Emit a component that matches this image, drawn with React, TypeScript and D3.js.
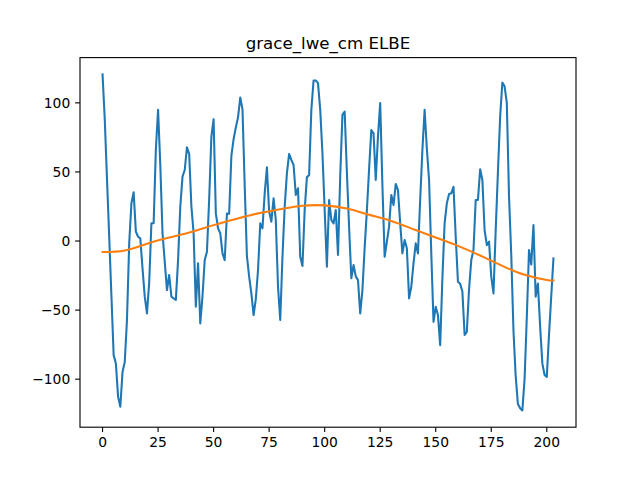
import React from "react";
import * as d3 from "d3";

const lweValues: number[] = [
  120.6, 88, 45, 3, -40, -82.6, -88.6, -112.8, -120, -94.7,
  -87.5, -57, -1.7, 27.3, 35.3, 6.8, 3.1, 1.9, -20, -40.3,
  -52.4, -30, 12.8, 12.8, 66, 95, 55, 5.6, -15, -35.5,
  -24.6, -40.3, -41.5, -42.6, -13.8, 24.9, 46.6, 51.4, 67.9, 63,
  25, 5.6, -47.6, -16.2, -59.7, -40, -13.8, -7.7, 30, 75.6,
  88.2, 20, 9.2, 5.6, -9, -13.8, 19.8, 19.8, 61.6, 73.7,
  82.2, 89.5, 103.9, 95.5, 40, -11, -25.8, -37.9, -53.6, -42,
  -21, 12.8, 9.2, 34.5, 53.4, 21.3, 14, 30.9, 15.2, -33.1,
  -57.2, -11.4, 24.9, 49, 63, 58.7, 55, 33.3, 38.2, -11.4,
  -18.1, 22.5, 46.1, 47.8, 94.9, 116.2, 116.2, 114.3, 94.9, 63.5,
  22.5, -18.6, 29.7, 15.2, 12.8, 22.5, -10.1, 47, 91.3, 93.7,
  50, 10, -27, -17.4, -25.6, -28.3, -52.4, -35.5, -5, 22,
  52, 80.4, 77.9, 44.2, 75.6, 99.8, 40, -11.4, -0.5, 10.4,
  33.3, 26, 41.3, 36.9, 12.8, -9, 0.7, -5.3, -41.5, -33.1,
  -16.2, -1.7, -9, 30, 66, 95, 67, 44.2, -9, -58.5,
  -47.6, -53.6, -75.4, -27, 12.8, 27.3, 34, 34.5, 39.3, 3,
  -29.5, -31, -36.6, -68, -65.7, -35, -13.8, -6.5, 29.7, 29.7,
  52, 44.2, 7.9, -3, -0.5, -25.8, -37.9, 8, 50, 90,
  114.7, 112, 100, 32, -10, -65, -98, -118, -121, -122.6,
  -100, -55, -6.5, -17, 11.6, -40.3, -30.7, -62, -88.6, -97,
  -98.3, -68, -40, -12.6,
];

const trendIndex: number[] = [0, 10, 20, 30, 40, 50, 60, 70, 80, 90, 100, 110, 120, 130, 140, 150, 160, 170, 180, 190, 200, 203];
const trendValues: number[] = [-8, -6.8, -2, 2.5, 6.5, 11.5, 16, 20, 23, 25.5, 25.8, 23.5, 19, 14.5, 8.5, 2.5, -3.5, -10.5, -18, -24.5, -28.2, -28.5];

const xTicks: number[] = [0, 25, 50, 75, 100, 125, 150, 175, 200];
const yTicks: number[] = [-100, -50, 0, 50, 100];
const title = "grace_lwe_cm ELBE";

export default function App() {
  const W = 640, H = 480;
  const left = 80, right = 576, top = 57.6, bottom = 427.2;
  const n = lweValues.length;
  const xMax = n - 1;
  const xPad = xMax * 0.05;
  const x = d3.scaleLinear().domain([-xPad, xMax + xPad]).range([left, right]);
  const allVals = lweValues.concat(trendValues);
  const [yMin, yMax] = d3.extent(allVals) as [number, number];
  const yPad = (yMax - yMin) * 0.05;
  const y = d3.scaleLinear().domain([yMin - yPad, yMax + yPad]).range([bottom, top]);

  const lineBlue = d3.line<number>().x((_, i) => x(i)).y((d) => y(d));
  const trendPts = trendIndex.map((t, i) => [t, trendValues[i]] as [number, number]);
  const lineOrange = d3.line<[number, number]>().x((d) => x(d[0])).y((d) => y(d[1])).curve(d3.curveNatural);

  const font = "'DejaVu Sans', sans-serif";
  const tickLen = 4.86;
  const pad = 4.86;

  return (
    <svg width={W} height={H} style={{ position: "absolute", left: 0, top: 0, background: "#fff" }} fontFamily={font}>
      <rect x={0} y={0} width={W} height={H} fill="#fff" />
      <defs>
        <clipPath id="axclip">
          <rect x={left} y={top} width={right - left} height={bottom - top} />
        </clipPath>
      </defs>
      <g clipPath="url(#axclip)">
        <path d={lineBlue(lweValues) || ""} fill="none" stroke="#1f77b4" strokeWidth={2.08} strokeLinejoin="round" strokeLinecap="square" />
        <path d={lineOrange(trendPts) || ""} fill="none" stroke="#ff7f0e" strokeWidth={2.08} strokeLinejoin="round" strokeLinecap="square" />
      </g>
      <rect x={left} y={top} width={right - left} height={bottom - top} fill="none" stroke="#000" strokeWidth={1.11} />
      {xTicks.map((t) => (
        <g key={"x" + t}>
          <line x1={x(t)} x2={x(t)} y1={bottom} y2={bottom + tickLen} stroke="#000" strokeWidth={1.11} />
          <text x={x(t)} y={bottom + tickLen + pad + 10.4} fontSize={13.89} textAnchor="middle" fill="#000">{t}</text>
        </g>
      ))}
      {yTicks.map((t) => (
        <g key={"y" + t}>
          <line x1={left - tickLen} x2={left} y1={y(t)} y2={y(t)} stroke="#000" strokeWidth={1.11} />
          <text x={left - tickLen - pad} y={y(t)} dy="0.36em" fontSize={13.89} textAnchor="end" fill="#000">{t < 0 ? "\u2212" + Math.abs(t) : t}</text>
        </g>
      ))}
      <text x={(left + right) / 2} y={top - 8.33} fontSize={16.67} textAnchor="middle" fill="#000">{title}</text>
    </svg>
  );
}
